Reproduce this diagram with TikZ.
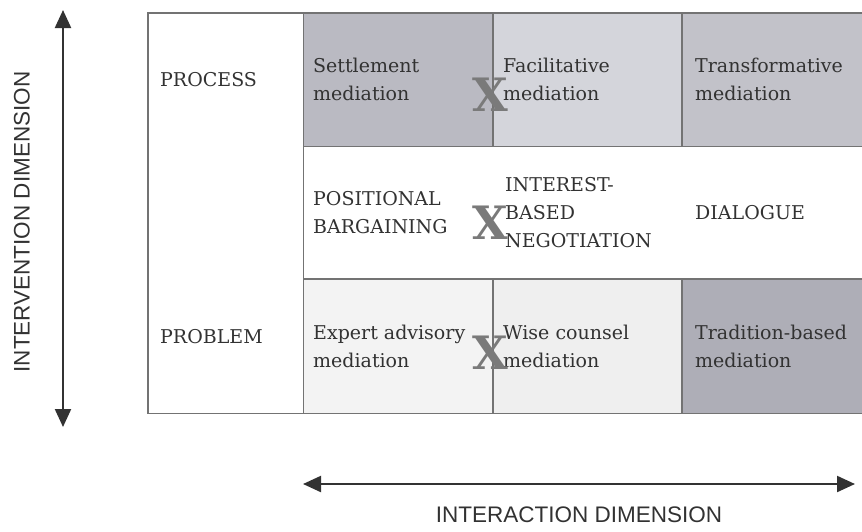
\documentclass[tikz,border=0pt]{standalone}
\usepackage{fontspec}
\setmainfont{DejaVu Serif}
\setsansfont{Liberation Sans}
\usepackage{xcolor}
\usetikzlibrary{positioning,arrows.meta}

\definecolor{settleGray}{RGB}{186,186,194}
\definecolor{facilGray}{RGB}{212,213,219}
\definecolor{transGray}{RGB}{194,194,201}
\definecolor{expertGray}{RGB}{243,243,243}
\definecolor{wiseGray}{RGB}{239,239,239}
\definecolor{tradGray}{RGB}{174,174,183}
\definecolor{ruleGray}{RGB}{115,115,115}
\definecolor{inkGray}{RGB}{50,50,50}

\tikzset{
  cell/.style={anchor=north west, inner sep=0pt, minimum height=133pt},
  celltxt/.style={inner sep=0pt, align=left, text=inkGray, font=\fontsize{19}{28}\selectfont},
  rule/.style={draw=ruleGray, line width=1.1pt},
  axis/.style={draw=inkGray, line width=2.2pt, {Triangle[length=18pt,width=16pt]}-{Triangle[length=18pt,width=16pt]}},
  axistxt/.style={font=\sffamily\fontsize{22.5}{26}\selectfont, text=inkGray},
  crossmark/.style={inner sep=0pt, font=\bfseries\fontsize{46}{46}\selectfont, text=black!52}
}

\begin{document}
\begin{tikzpicture}[x=1pt, y=-1pt]
\useasboundingbox (0,0) rectangle (862,531);

\node[cell, minimum width=155pt, minimum height=400pt] (side) at (148,13) {};
\node[cell, fill=settleGray, minimum width=190pt] (settle) at (303,13) {};
\node[cell, fill=facilGray, minimum width=189pt] (facil) at (493,13) {};
\node[cell, fill=transGray, minimum width=180pt] (transf) at (682,13) {};
\node[cell, minimum width=559pt] (talk) at (303,146) {};
\node[cell, fill=expertGray, minimum width=190pt, minimum height=134pt] (expert) at (303,279) {};
\node[cell, fill=wiseGray, minimum width=189pt, minimum height=134pt] (wise) at (493,279) {};
\node[cell, fill=tradGray, minimum width=180pt, minimum height=134pt] (trad) at (682,279) {};

\draw[rule] (transf.north east) -- (side.north west) -- (side.south west) -- (trad.south east);
\draw[rule] (side.north east) -- (side.south east);
\draw[rule] (settle.south west) -- (transf.south east);
\draw[rule] (expert.north west) -- (trad.north east);
\draw[rule] (facil.north west) -- (facil.south west);
\draw[rule] (transf.north west) -- (transf.south west);
\draw[rule] (wise.north west) -- (wise.south west);
\draw[rule] (trad.north west) -- (trad.south west);

\node[celltxt, anchor=west] (process) at (160,80) {PROCESS};
\node[celltxt, anchor=west] (problem) at (160,337) {PROBLEM};
\node[celltxt, right=10pt of settle.west] (settletxt) {Settlement\\mediation};
\node[celltxt, right=10pt of facil.west] (faciltxt) {Facilitative\\mediation};
\node[celltxt, right=13pt of transf.west] (transftxt) {Transformative\\mediation};
\node[celltxt, right=10pt of talk.west] (bargain) {POSITIONAL\\BARGAINING};
\node[celltxt, right=202pt of talk.west] (interest) {INTEREST-\\BASED\\NEGOTIATION};
\node[celltxt, right=392pt of talk.west] (dialogue) {DIALOGUE};
\node[celltxt, right=10pt of expert.west] (experttxt) {Expert advisory\\mediation};
\node[celltxt, right=10pt of wise.west] (wisetxt) {Wise counsel\\mediation};
\node[celltxt, right=13pt of trad.west] (tradtxt) {Tradition-based\\mediation};

\node[crossmark] (xtop) at (490,95) {X};
\node[crossmark] (xmid) at (490,223) {X};
\node[crossmark] (xbot) at (490,353) {X};

\coordinate (vtop) at (63,10);
\coordinate (vbot) at (63,427);
\coordinate (hleft) at (303,484);
\coordinate (hright) at (855,484);
\draw[axis] (vtop) -- (vbot);
\draw[axis] (hleft) -- (hright);
\node[axistxt, rotate=90] (intervention) at (22,222) {INTERVENTION DIMENSION};
\node[axistxt] (interaction) at (579,515) {INTERACTION DIMENSION};
\end{tikzpicture}
\end{document}
